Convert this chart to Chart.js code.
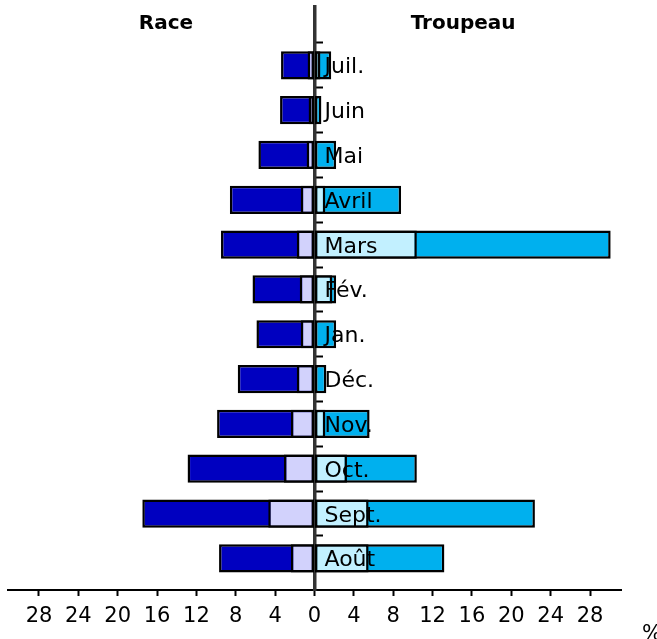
<!DOCTYPE html>
<html>
<head>
<meta charset="utf-8">
<script src="https://cdn.jsdelivr.net/npm/chart.js@4"></script>
<style>
  html, body { margin: 0; padding: 0; background: #fff; }
  #wrap { width: 657px; height: 639px; }
</style>
</head>
<body>
<div id="wrap"><canvas id="c" width="657" height="639"></canvas></div>
<script>
// Months, top to bottom
const months = ['Juil.', 'Juin', 'Mai', 'Avril', 'Mars', 'Fév.', 'Jan.', 'Déc.', 'Nov.', 'Oct.', 'Sept.', 'Août'];
// Left side: Race (%)
const raceLight = [0.7, 0.6, 0.8, 1.4, 1.8, 1.5, 1.4, 1.8, 2.4, 3.1, 4.7, 2.4];
const raceTotal = [3.4, 3.5, 5.7, 8.6, 9.5, 6.3, 5.9, 7.8, 9.9, 12.9, 17.5, 9.7];
// Right side: Troupeau (%)
const troupeauLight = [0.6, 0.2, 0.15, 1.1, 10.4, 1.8, 0.15, 0.15, 1.1, 3.3, 5.5, 5.5];
const troupeauTotal = [1.7, 0.7, 2.2, 8.8, 30.1, 2.2, 2.2, 1.2, 5.6, 10.4, 22.4, 13.2];
// Axis ticks
const xTicks = [-28, -24, -20, -16, -12, -8, -4, 0, 4, 8, 12, 16, 20, 24, 28];
const sideTitles = ['Race', 'Troupeau'];
const unitLabel = '%';

const FONT = '"DejaVu Sans", sans-serif';

const toPoints = (arr, sign) => arr.map((v, i) => ({ x: sign * v, y: i }));

const barCommon = {
  borderColor: '#000',
  borderWidth: 2.5,
  borderSkipped: false,
  grouped: false,
  categoryPercentage: 1,
  barPercentage: 0.63
};

const textPlugin = {
  id: 'texts',
  afterDraw(chart) {
    const { ctx, chartArea } = chart;
    const xs = chart.scales.x, ys = chart.scales.y;
    const x0 = xs.getPixelForValue(0);
    ctx.save();
    ctx.fillStyle = '#000';
    ctx.textBaseline = 'alphabetic';
    ctx.textAlign = 'left';
    ctx.font = '22px ' + FONT;
    months.forEach((m, i) => ctx.fillText(m, x0 + 10, ys.getPixelForValue(i) + 8));
    ctx.font = 'bold 20px ' + FONT;
    ctx.textAlign = 'center';
    ctx.fillText(sideTitles[0], xs.getPixelForValue(-15.1), chartArea.top + 22);
    ctx.fillText(sideTitles[1], xs.getPixelForValue(15.1), chartArea.top + 22);
    ctx.font = '21px ' + FONT;
    ctx.textAlign = 'left';
    ctx.fillText(unitLabel, chartArea.right + 21, xs.bottom + 1);
    ctx.restore();
  }
};

new Chart(document.getElementById('c'), {
  type: 'bar',
  data: {
    datasets: [
      Object.assign({ label: 'Race (part claire)', data: toPoints(raceLight, -1), backgroundColor: '#d2d2fc' }, barCommon),
      Object.assign({ label: 'Troupeau (part claire)', data: toPoints(troupeauLight, 1), backgroundColor: '#c2f0ff' }, barCommon),
      Object.assign({ label: 'Race', data: toPoints(raceTotal, -1), backgroundColor: '#0000c0' }, barCommon),
      Object.assign({ label: 'Troupeau', data: toPoints(troupeauTotal, 1), backgroundColor: '#00b0ee' }, barCommon)
    ]
  },
  options: {
    indexAxis: 'y',
    responsive: false,
    animation: false,
    layout: { padding: { left: 8, right: 36, top: 7, bottom: 0 } },
    plugins: { legend: { display: false }, tooltip: { enabled: false }, title: { display: false } },
    scales: {
      x: {
        type: 'linear',
        min: -31.15,
        max: 31.15,
        afterBuildTicks: s => { s.ticks = xTicks.map(v => ({ value: v })); },
        afterFit: s => { s.height = 49; },
        grid: { drawOnChartArea: false, drawTicks: true, tickLength: 6, tickColor: '#000', tickWidth: 2 },
        border: { display: true, color: '#000', width: 2 },
        ticks: {
          autoSkip: false, maxRotation: 0, padding: 8, color: '#000',
          font: { family: FONT, size: 21 },
          callback: v => Math.abs(v)
        }
      },
      y: {
        type: 'linear',
        reverse: true,
        offset: false,
        min: -1.30,
        max: 11.705,
        position: { x: 0 },
        z: 1,
        afterBuildTicks: s => { s.ticks = months.map((m, i) => ({ value: i - 0.5 })); },
        grid: { offset: false, drawOnChartArea: false, drawTicks: true, tickLength: -10, tickColor: '#000', tickWidth: 2 },
        border: { display: true, color: '#333', width: 3.5 },
        ticks: { display: false }
      }
    }
  },
  plugins: [textPlugin]
});
</script>
</body>
</html>
